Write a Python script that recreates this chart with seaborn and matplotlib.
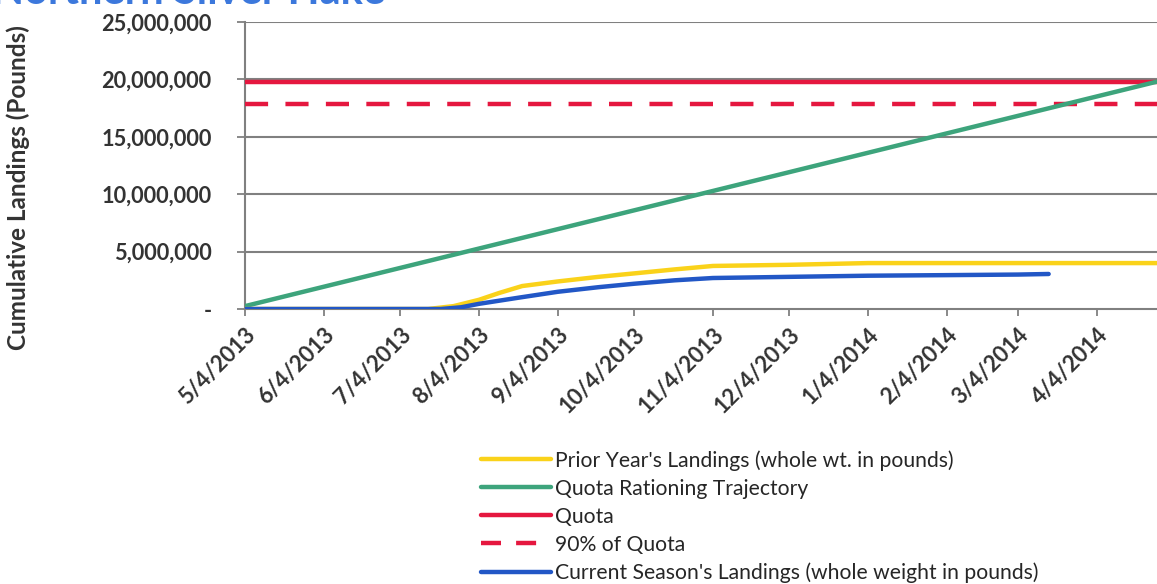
import pandas as pd
import numpy as np
import matplotlib.pyplot as plt
from matplotlib.ticker import FuncFormatter
from matplotlib.lines import Line2D
import seaborn as sns


# -----------------------------
# DATA
# -----------------------------
quota = 19800000
quota_90 = 17820000

trajectory_dates = ["2013-05-04", "2014-05-03"]
trajectory_vals = [250000, 20100000]

prior_dates = ["2013-05-04", "2013-07-15", "2013-07-25", "2013-08-04", "2013-08-12",
               "2013-08-21", "2013-09-04", "2013-09-20", "2013-10-04", "2013-10-20",
               "2013-11-04", "2013-12-04", "2014-01-04", "2014-02-04", "2014-03-04",
               "2014-04-04", "2014-05-03"]
prior_vals = [0, 0, 250000, 800000, 1400000,
              2000000, 2400000, 2800000, 3100000, 3450000,
              3750000, 3850000, 4000000, 4000000, 4000000,
              4000000, 4000000]

current_dates = ["2013-05-04", "2013-07-20", "2013-07-28", "2013-08-04", "2013-08-20",
                 "2013-09-04", "2013-09-20", "2013-10-04", "2013-10-20", "2013-11-04",
                 "2013-12-04", "2014-01-04", "2014-02-04", "2014-03-04", "2014-03-16"]
current_vals = [0, 0, 150000, 450000, 1000000,
                1500000, 1900000, 2200000, 2500000, 2700000,
                2800000, 2900000, 2950000, 3000000, 3050000]

tick_dates = ["2013-05-04", "2013-06-04", "2013-07-04", "2013-08-04", "2013-09-04",
              "2013-10-04", "2013-11-04", "2013-12-04", "2014-01-04", "2014-02-04",
              "2014-03-04", "2014-04-04"]
tick_labels = ["5/4/2013", "6/4/2013", "7/4/2013", "8/4/2013", "9/4/2013",
               "10/4/2013", "11/4/2013", "12/4/2013", "1/4/2014", "2/4/2014",
               "3/4/2014", "4/4/2014"]

labels = ["Prior Year's Landings (whole wt. in pounds)",
          "Quota Rationing Trajectory",
          "Quota",
          "90% of Quota",
          "Current Season's Landings (whole weight in pounds)"]

# -----------------------------
# STYLE
# -----------------------------
sns.set_style("white")
plt.rcParams["font.family"] = ["Lato", "DejaVu Sans"]

YELLOW = "#FAD21A"
GREEN = "#3DA47C"
RED = "#E5173F"
BLUE = "#2257C6"
GRID = "#808080"
TXT = "#333333"
LW = 3.2

fig = plt.figure(figsize=(11.57, 5.84), dpi=100)
ax = fig.add_axes([245 / 1157, (584 - 309) / 584, (1157 - 245) / 1157, (309 - 22) / 584])

prior = pd.DataFrame({"date": pd.to_datetime(prior_dates), "val": prior_vals})
current = pd.DataFrame({"date": pd.to_datetime(current_dates), "val": current_vals})
traj = pd.DataFrame({"date": pd.to_datetime(trajectory_dates), "val": trajectory_vals})

start = pd.Timestamp("2013-05-04")
end = start + pd.Timedelta(days=358.6)

for y in [5e6, 10e6, 15e6, 20e6, 25e6]:
    ax.axhline(y, color=GRID, lw=1.5, zorder=1)

ax.axhline(quota, color=RED, lw=LW, zorder=3)
ax.axhline(quota_90, color=RED, lw=LW, dashes=(5.2, 3.9), zorder=3)
sns.lineplot(data=traj, x="date", y="val", ax=ax, color=GREEN, lw=LW, zorder=3)
sns.lineplot(data=prior, x="date", y="val", ax=ax, color=YELLOW, lw=LW, zorder=4)
sns.lineplot(data=current, x="date", y="val", ax=ax, color=BLUE, lw=LW, zorder=5)

ax.set_xlim(start, end)
ax.set_ylim(0, 25e6)
ax.set_yticks([0, 5e6, 10e6, 15e6, 20e6, 25e6])
ax.yaxis.set_major_formatter(FuncFormatter(lambda v, p: "-" if v == 0 else f"{v:,.0f}"))
ax.set_xticks(pd.to_datetime(tick_dates))
ax.set_xticklabels(tick_labels, rotation=45, ha="right", rotation_mode="anchor",
                   fontsize=16, fontweight="bold", color=TXT)
for t in ax.get_yticklabels():
    t.set_fontsize(15.7)
    t.set_fontweight("bold")
    t.set_color(TXT)

ax.tick_params(axis="y", length=6, width=1.3, color=GRID, pad=18, left=True)
ax.tick_params(axis="x", length=5, width=1.3, color=GRID, pad=6, bottom=True)

for side in ["top", "right"]:
    ax.spines[side].set_visible(False)
for side in ["left", "bottom"]:
    ax.spines[side].set_color(GRID)
    ax.spines[side].set_linewidth(1.5)

ax.set_xlabel("")
ax.set_ylabel("")
fig.text(18 / 1157, 1 - 188 / 584, "Cumulative Landings (Pounds)", rotation=90,
         ha="center", va="center", fontsize=17.5, fontweight="bold", color=TXT)

# cut-off title at the top of the page
fig.text(385 / 1157, 1 - 4 / 584, "Northern Silver Hake", ha="right", va="baseline",
         fontsize=30, fontweight="bold", color="#3C78DC")

handles = [
    Line2D([], [], color=YELLOW, lw=LW),
    Line2D([], [], color=GREEN, lw=LW),
    Line2D([], [], color=RED, lw=LW),
    Line2D([], [], color=RED, lw=LW, dashes=(4.5, 3.4), dash_capstyle="butt"),
    Line2D([], [], color=BLUE, lw=LW),
]
fig.legend(handles, labels, loc="upper left", bbox_to_anchor=(481 / 1157, 1 - 450 / 584),
           frameon=False, fontsize=15.2, handlelength=3.3, handletextpad=0.2,
           labelspacing=0.38, borderaxespad=0, borderpad=0)

plt.savefig("out.png", dpi=100)
